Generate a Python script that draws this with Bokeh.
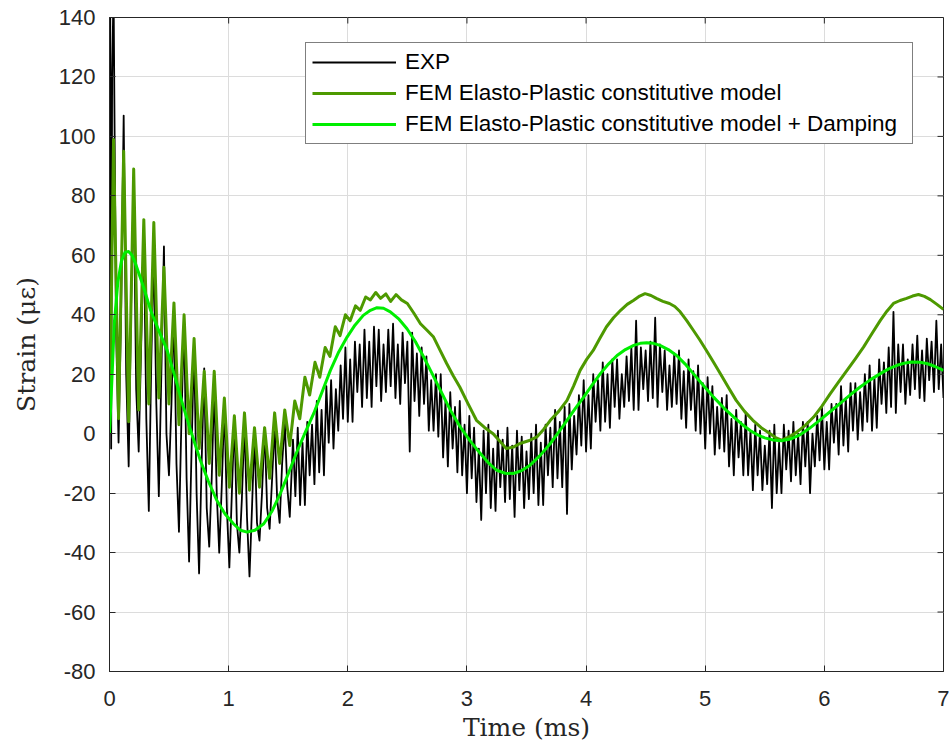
import numpy as np
from bokeh.plotting import figure
from bokeh.models import Range1d, FixedTicker, Legend, LegendItem
from bokeh.embed import file_html
from bokeh.resources import INLINE

# ---------------- data ----------------
X_TICKS = [0, 1, 2, 3, 4, 5, 6, 7]
Y_TICKS = [-80, -60, -40, -20, 0, 20, 40, 60, 80, 100, 120, 140]

LABEL_EXP = "EXP"
LABEL_FEM = "FEM Elasto-Plastic constitutive model"
LABEL_DAMP = "FEM Elasto-Plastic constitutive model + Damping"

# EXP, early part (irregular sampling, ms)
exp_t_early = [0.000, 0.006, 0.014, 0.022, 0.034, 0.055, 0.076, 0.097,
               0.119, 0.140, 0.161, 0.182, 0.203, 0.224, 0.245, 0.266,
               0.288, 0.309, 0.330, 0.351, 0.372, 0.393, 0.414, 0.435,
               0.457, 0.478, 0.499, 0.520, 0.541, 0.562, 0.583, 0.604,
               0.626, 0.647, 0.668, 0.689, 0.710, 0.731, 0.752, 0.773,
               0.795, 0.816, 0.837, 0.858, 0.879, 0.900, 0.921, 0.942,
               0.964, 0.985, 1.006, 1.027, 1.048, 1.069, 1.090, 1.111,
               1.133, 1.154, 1.175, 1.196, 1.217, 1.238, 1.259, 1.280,
               1.302, 1.323, 1.344, 1.365, 1.386, 1.407, 1.428, 1.449,
               1.471, 1.492, 1.513]
exp_v_early = [0, 145, -5, 120, 150, 35, -3, 40,
               107, 20, -11, 45, 84, 15, -6, 30,
               68, 5, -26, 25, 62, 10, -21, 20,
               63, 0, -14, 10, 42, -10, -33, 5,
               38, -15, -43, -5, 30, -20, -47, -10,
               22, -25, -38, -15, 16, -20, -40, -18,
               10, -25, -45, -20, 5, -30, -40, -22,
               4, -28, -48, -25, 0, -30, -36, -20,
               2, -25, -32, -15, 3, -22, -30, -10,
               4, -18, -28]

# EXP, later part: sampled every 0.02 ms from 1.54 ms to 7.00 ms
exp_late_start = 1.54
exp_late_step = 0.02
exp_v_late = [
    -2, -21, 2, -24,
    -3, -24, 4, -14, 3,
    -17, 11, -13, 8, -14,
    16, -3, 18, -5, 15,
    1, 23, 5, 29, 4,
    25, 4, 31, 14, 30,
    9, 35, 12, 31, 9,
    36, 16, 35, 11, 30,
    14, 35, 16, 37, 12,
    30, 10, 34, 17, 31,
    -6, 34, 11, 27, 6,
    29, 10, 26, 1, 18,
    1, 20, -1, 20, -8,
    11, -11, 14, -5, 9,
    -13, 11, -14, 3, -20,
    6, -15, 2, -23, -5,
    -29, 1, -20, 3, -25,
    -5, -26, 1, -18, -2,
    -23, 2, -22, -4, -28,
    1, -19, -1, -25, -6,
    -22, 0, -20, 3, -24,
    -3, -24, 3, -14, 2,
    -18, 8, -15, 4, -18,
    9, -27, 10, -12, 6,
    -7, 13, -4, 18, -6,
    13, -5, 20, 4, 18,
    1, 24, 4, 20, 2,
    25, 9, 25, 5, 20,
    9, 26, 11, 29, 8,
    38, 8, 29, 15, 28,
    11, 31, 12, 39, 9,
    30, 14, 28, 8, 23,
    9, 27, 10, 28, 5,
    21, 2, 25, 8, 21,
    1, 23, 0, 17, -5,
    19, 0, 16, -7, 9,
    -5, 12, -6, 13, -11,
    5, -14, 8, -8, 4,
    -14, 7, -14, 1, -19,
    3, -14, 1, -19, -4,
    -17, 1, -25, 3, -20,
    -3, -20, 3, -12, 1,
    -16, 4, -14, 0, -17,
    4, -11, 4, -20, 0,
    -11, 6, -9, 9, -12,
    4, -12, 10, -3, 10,
    -7, 16, -4, 12, -6,
    17, 1, 17, -2, 14,
    1, 20, 4, 23, 1,
    19, 2, 25, 10, 24,
    7, 29, 9, 41, 7,
    30, 14, 30, 10, 25,
    13, 30, 15, 33, 12,
    28, 11, 32, 18, 31,
    14, 38, 15, 30, 12,
]

# FEM Elasto-Plastic constitutive model
fem_t = [0.000, 0.034, 0.076, 0.119, 0.161, 0.203, 0.245, 0.288, 0.330, 0.372,
         0.414, 0.457, 0.499, 0.541, 0.583, 0.626, 0.668, 0.710, 0.752, 0.795,
         0.837, 0.879, 0.921, 0.964, 1.006, 1.048, 1.090, 1.133, 1.175, 1.217,
         1.259, 1.302, 1.344, 1.386, 1.428, 1.471, 1.513, 1.555, 1.597, 1.640,
         1.680, 1.725, 1.765, 1.810, 1.850, 1.895, 1.935, 1.980, 2.020, 2.065,
         2.105, 2.150, 2.190, 2.235, 2.275, 2.320, 2.360, 2.405, 2.450, 2.500,
         2.555, 2.610, 2.665, 2.720, 2.775, 2.830, 2.885, 2.940, 3.010, 3.080,
         3.150, 3.220, 3.275, 3.330, 3.390, 3.445, 3.530, 3.587, 3.645, 3.700,
         3.770, 3.840, 3.895, 3.950, 4.005, 4.060, 4.115, 4.170, 4.230, 4.290,
         4.345, 4.400, 4.450, 4.495, 4.545, 4.590, 4.645, 4.700, 4.745, 4.790,
         4.845, 4.900, 4.955, 5.010, 5.070, 5.130, 5.195, 5.260, 5.330, 5.400,
         5.470, 5.545, 5.590, 5.640, 5.700, 5.770, 5.840, 5.910, 5.980, 6.050,
         6.120, 6.190, 6.260, 6.330, 6.400, 6.470, 6.525, 6.580, 6.635, 6.690,
         6.740, 6.790, 6.840, 6.890, 6.945, 7.000]
fem_v = [0, 99, 5, 95, 4, 89, 8, 72, 10, 71,
         12, 56, 10, 44, 3, 40, 0, 32, -5, 21,
         -10, 21, -14, 12, -18, 6, -20, 7, -19, 2,
         -18, 2, -15, 7, -10, 8, -4, 11, 5, 19,
         13, 24, 19, 29, 26, 36, 33, 40, 38, 43,
         41.5, 46, 45, 47.5, 45.5, 47, 44.5, 46.8, 45, 43.8,
         40.5, 37.0, 34.8, 32.5, 28, 23.6, 19.5, 15.7, 10, 4.5,
         2, 0.0, -2.5, -5.0, -4.5, -3.3, -2.2, -1.1, 1.5, 4.5,
         7.5, 11.2, 16, 21.3, 25, 28.0, 32, 35.9, 39, 41.5,
         43.5, 44.9, 46.3, 47.1, 46.5, 45.5, 44.5, 43.8, 42.8, 41.0,
         38, 34.8, 31.5, 28.0, 24, 20, 15.5, 11.2, 7.5, 4.5,
         2, 0.0, -1.3, -2.2, -1.2, 0.6, 2.8, 5.6, 9.3, 13.5,
         17.4, 21.3, 25.2, 29.2, 33.7, 38.1, 41.2, 43.8, 44.8, 45.5,
         46.3, 46.8, 46.2, 45.1, 43.5, 41.8]

# FEM Elasto-Plastic constitutive model + Damping
damp_t = [0.000, 0.020, 0.040, 0.070, 0.100, 0.130, 0.160, 0.190, 0.220, 0.280,
          0.345, 0.410, 0.484, 0.550, 0.620, 0.690, 0.763, 0.830, 0.900, 0.970,
          1.040, 1.100, 1.155, 1.220, 1.295, 1.365, 1.435, 1.505, 1.574, 1.644,
          1.714, 1.784, 1.854, 1.924, 1.994, 2.060, 2.130, 2.190, 2.245, 2.300,
          2.357, 2.430, 2.497, 2.567, 2.637, 2.707, 2.777, 2.860, 2.945, 3.030,
          3.113, 3.180, 3.250, 3.320, 3.390, 3.460, 3.530, 3.615, 3.700, 3.770,
          3.840, 3.910, 3.980, 4.050, 4.120, 4.190, 4.260, 4.330, 4.400, 4.455,
          4.510, 4.565, 4.620, 4.690, 4.760, 4.830, 4.900, 4.985, 5.070, 5.155,
          5.240, 5.310, 5.380, 5.440, 5.500, 5.570, 5.640, 5.715, 5.790, 5.875,
          5.960, 6.045, 6.130, 6.215, 6.300, 6.385, 6.470, 6.540, 6.610, 6.670,
          6.730, 6.800, 6.860, 6.930, 7.000]
damp_v = [0, 18, 37, 51, 58, 61, 61.3, 60, 57, 50,
          41.5, 35, 28, 19, 9, 0, -9, -16, -22.4, -27,
          -30.3, -32.5, -33.1, -32.5, -30.3, -26, -20, -13, -6, 0.5,
          6.8, 14, 21.3, 27.5, 32.5, 36.5, 39.8, 41.5, 42.4, 42.2,
          41.0, 38.5, 35.3, 31, 25.8, 20.3, 14.6, 8, 2.2, -2.6,
          -6.7, -9.8, -12.3, -13.3, -13.4, -12.4, -10.6, -7.3, -3.3, 0.5,
          4.5, 8.5, 12.3, 16.3, 20.2, 23.5, 26.3, 28.3, 29.7, 30.4,
          30.6, 30.4, 29.7, 28.3, 26.3, 23.5, 20.2, 16.2, 12.3, 8.7,
          5.6, 3.1, 1.0, -0.4, -1.4, -2.1, -2.4, -1.8, -0.5, 1.8,
          4.5, 7.3, 10.1, 13.0, 15.7, 18.1, 20.2, 21.8, 23.0, 23.7,
          24.1, 24.0, 23.6, 22.6, 21.3]

exp_t = exp_t_early + [round(exp_late_start + i * exp_late_step, 4)
                       for i in range(len(exp_v_late))]
exp_v = exp_v_early + exp_v_late

# ---------------- figure ----------------
AX = "#262626"
TICK_FONT = "Liberation Sans"
SERIF = "DejaVu Serif"
W, H = 949, 745
BL, BR, BT, BB = 109, 6, 17, 74
X0, X1, Y0, Y1 = 0, 7, -80, 140
TICK_PX = 6

p = figure(width=W, height=H, output_backend="svg", toolbar_location=None,
           x_range=Range1d(X0, X1), y_range=Range1d(Y0, Y1),
           min_border_left=BL, min_border_right=BR,
           min_border_top=BT, min_border_bottom=BB,
           background_fill_color="white", border_fill_color="white")

p.outline_line_color = AX
p.outline_line_width = 1

for ax in (p.xaxis[0], p.yaxis[0]):
    ax.major_tick_in = TICK_PX
    ax.major_tick_out = 0
    ax.minor_tick_in = 0
    ax.minor_tick_out = 0
    ax.axis_line_color = AX
    ax.major_tick_line_color = AX
    ax.major_label_text_font = TICK_FONT
    ax.major_label_text_font_size = "22px"
    ax.major_label_text_color = AX
    ax.axis_label_text_font = SERIF
    ax.axis_label_text_font_size = "25px"
    ax.axis_label_text_font_style = "normal"
    ax.axis_label_text_color = AX

p.xaxis[0].ticker = FixedTicker(ticks=X_TICKS)
p.yaxis[0].ticker = FixedTicker(ticks=Y_TICKS)
p.xaxis[0].major_label_overrides = {t: str(t) for t in X_TICKS}
p.yaxis[0].major_label_overrides = {t: str(t) for t in Y_TICKS}
p.xaxis[0].axis_label = "Time (ms)"
p.yaxis[0].axis_label = "Strain (με)"
p.xaxis[0].major_label_standoff = 19
p.yaxis[0].major_label_standoff = 14
p.xaxis[0].axis_label_standoff = 4
p.yaxis[0].axis_label_standoff = 15

p.xgrid.ticker = FixedTicker(ticks=X_TICKS)
p.ygrid.ticker = FixedTicker(ticks=Y_TICKS)
p.grid.grid_line_color = "#dcdcdc"
p.grid.grid_line_width = 1

r_exp = p.line(exp_t, exp_v, line_color="black", line_width=1.8, line_join="round")
r_fem = p.line(fem_t, fem_v, line_color="#4d9900", line_width=3, line_join="round")
r_damp = p.line(damp_t, damp_v, line_color="#00ee00", line_width=3, line_join="round")

# inward ticks on the top and right edges of the box (from the tick arrays)
frame_w = W - BL - BR
frame_h = H - BT - BB
dy = TICK_PX * (Y1 - Y0) / frame_h
dx = TICK_PX * (X1 - X0) / frame_w
p.segment(x0=X_TICKS, y0=[Y1] * len(X_TICKS), x1=X_TICKS, y1=[Y1 - dy] * len(X_TICKS),
          line_color=AX, line_width=1)
p.segment(x0=[X1] * len(Y_TICKS), y0=Y_TICKS, x1=[X1 - dx] * len(Y_TICKS), y1=Y_TICKS,
          line_color=AX, line_width=1)

legend = Legend(
    items=[LegendItem(label=LABEL_EXP, renderers=[r_exp]),
           LegendItem(label=LABEL_FEM, renderers=[r_fem]),
           LegendItem(label=LABEL_DAMP, renderers=[r_damp])],
    location=(196, 527), margin=0, padding=6, spacing=5,
    label_height=22, glyph_height=22, glyph_width=84, label_standoff=9,
    label_width=501,
    label_text_font=TICK_FONT, label_text_font_size="22.5px", label_text_color="black",
    border_line_color="black", border_line_width=1,
    background_fill_color="white", background_fill_alpha=1.0,
)
p.add_layout(legend)

open("out.html", "w").write(file_html(p, INLINE))
